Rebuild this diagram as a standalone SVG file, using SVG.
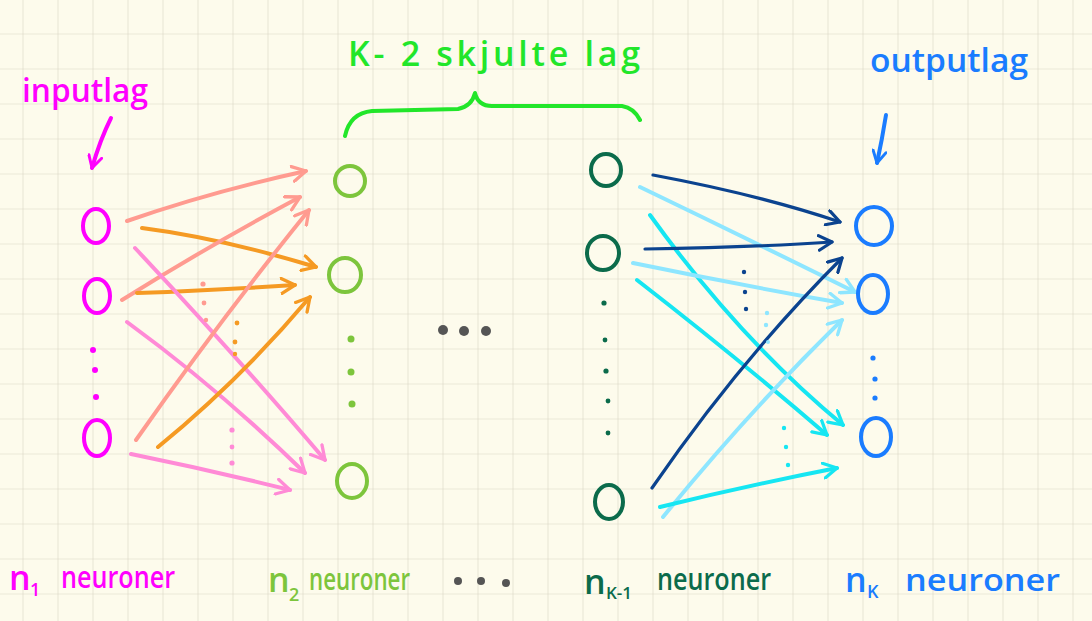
<svg xmlns="http://www.w3.org/2000/svg" width="1092" height="621" viewBox="0 0 1092 621">
<defs>
<pattern id="grid" x="22.5" y="-1.5" width="35" height="35" patternUnits="userSpaceOnUse">
<path d="M0,0 V35 M0,0 H35" fill="none" stroke="#d9d5c3" stroke-width="1.2"/>
</pattern>
<marker id="m-salmon" viewBox="0 0 12 12" refX="10" refY="6" markerWidth="4.5" markerHeight="4.5" orient="auto" markerUnits="strokeWidth"><path d="M1,1 L10,6 L1,11" fill="none" stroke="#ff9b90" stroke-width="2.2" stroke-linecap="round" stroke-linejoin="round"/></marker>
<marker id="m-orange" viewBox="0 0 12 12" refX="10" refY="6" markerWidth="4.5" markerHeight="4.5" orient="auto" markerUnits="strokeWidth"><path d="M1,1 L10,6 L1,11" fill="none" stroke="#f59a23" stroke-width="2.2" stroke-linecap="round" stroke-linejoin="round"/></marker>
<marker id="m-pink" viewBox="0 0 12 12" refX="10" refY="6" markerWidth="4.5" markerHeight="4.5" orient="auto" markerUnits="strokeWidth"><path d="M1,1 L10,6 L1,11" fill="none" stroke="#ff8ad6" stroke-width="2.2" stroke-linecap="round" stroke-linejoin="round"/></marker>
<marker id="m-navy" viewBox="0 0 12 12" refX="10" refY="6" markerWidth="5.5" markerHeight="5.5" orient="auto" markerUnits="strokeWidth"><path d="M1,1 L10,6 L1,11" fill="none" stroke="#0b438f" stroke-width="2.2" stroke-linecap="round" stroke-linejoin="round"/></marker>
<marker id="m-light" viewBox="0 0 12 12" refX="10" refY="6" markerWidth="4.5" markerHeight="4.5" orient="auto" markerUnits="strokeWidth"><path d="M1,1 L10,6 L1,11" fill="none" stroke="#8ee6ff" stroke-width="2.2" stroke-linecap="round" stroke-linejoin="round"/></marker>
<marker id="m-cyan" viewBox="0 0 12 12" refX="10" refY="6" markerWidth="4.5" markerHeight="4.5" orient="auto" markerUnits="strokeWidth"><path d="M1,1 L10,6 L1,11" fill="none" stroke="#16e6f2" stroke-width="2.2" stroke-linecap="round" stroke-linejoin="round"/></marker>
<marker id="m-blue" viewBox="0 0 12 12" refX="10" refY="6" markerWidth="4" markerHeight="4" orient="auto" markerUnits="strokeWidth"><path d="M1,1 L10,6 L1,11" fill="none" stroke="#1a7cff" stroke-width="2.2" stroke-linecap="round" stroke-linejoin="round"/></marker>
<marker id="m-magh" viewBox="0 0 12 12" refX="10" refY="6" markerWidth="4" markerHeight="4" orient="auto" markerUnits="strokeWidth"><path d="M1,1 L10,6 L1,11" fill="none" stroke="#ff00ff" stroke-width="2.2" stroke-linecap="round" stroke-linejoin="round"/></marker>
</defs>
<style>
.t{font-family:"Open Sans","Liberation Sans",sans-serif;font-weight:600;}
.node{fill:none;stroke-width:4;}
.in{stroke:#ff00ff}.hid{stroke:#7dc53c}.hk{stroke:#0b6b4b}.out{stroke:#1a7cff}
.a{fill:none;stroke-width:4;stroke-linecap:round}
.salmon{stroke:#ff9b90}.orange{stroke:#f59a23}.pink{stroke:#ff8ad6}
.navy{stroke:#0b438f;stroke-width:3.2}.light{stroke:#8ee6ff}.cyan{stroke:#16e6f2}
</style>
<rect width="1092" height="621" fill="#fdfbec"/>
<rect width="1092" height="621" fill="url(#grid)"/>

<g id="label-input">
<text class="t" x="22" y="102" font-size="32" fill="#ff00ff" textLength="126" lengthAdjust="spacingAndGlyphs">inputlag</text>
<path d="M111,118 Q100,140 92,168" fill="none" stroke="#ff00ff" stroke-width="4" stroke-linecap="round" marker-end="url(#m-magh)"/>
</g>
<g id="label-hidden">
<text class="t" x="348" y="66" font-size="34" fill="#22e62a" textLength="292" lengthAdjust="spacing">K- 2  skjulte  lag</text>
<path d="M345,136 Q350,113 372,111 L458,109 Q472,106 475,93 Q478,106 492,106 L622,106 Q634,108 640,120" fill="none" stroke="#22e62a" stroke-width="4" stroke-linecap="round" stroke-linejoin="round"/>
</g>
<g id="label-output">
<text class="t" x="870" y="72" font-size="32" fill="#1a7cff" textLength="158" lengthAdjust="spacingAndGlyphs">outputlag</text>
<path d="M886,115 Q882,140 877,163" fill="none" stroke="#1a7cff" stroke-width="4" stroke-linecap="round" marker-end="url(#m-blue)"/>
</g>

<g id="connectors">
<path class="a salmon" d="M127,221 Q210,192 306,171" marker-end="url(#m-salmon)"/>
<path class="a orange" d="M142,228 Q220,238 316,267" marker-end="url(#m-orange)"/>
<path class="a salmon" d="M122,300 Q210,245 300,197" marker-end="url(#m-salmon)"/>
<path class="a orange" d="M137,293 Q220,290 295,285" marker-end="url(#m-orange)"/>
<path class="a pink" d="M135,248 Q240,360 325,460" marker-end="url(#m-pink)"/>
<path class="a pink" d="M127,322 Q220,390 305,473" marker-end="url(#m-pink)"/>
<path class="a salmon" d="M136,440 Q220,320 309,210" marker-end="url(#m-salmon)"/>
<path class="a orange" d="M158,447 Q240,380 310,297" marker-end="url(#m-orange)"/>
<path class="a pink" d="M131,454 Q210,470 290,490" marker-end="url(#m-pink)"/>

<path class="a navy" d="M653,175 Q760,195 840,222" marker-end="url(#m-navy)"/>
<path class="a light" d="M640,187 Q750,240 855,292" marker-end="url(#m-light)"/>
<path class="a cyan" d="M650,215 Q740,340 843,425" marker-end="url(#m-cyan)"/>
<path class="a navy" d="M645,249 Q760,247 832,242" marker-end="url(#m-navy)"/>
<path class="a light" d="M633,263 Q740,285 842,303" marker-end="url(#m-light)"/>
<path class="a cyan" d="M637,280 Q740,360 827,435" marker-end="url(#m-cyan)"/>
<path class="a navy" d="M652,488 Q740,360 842,258" marker-end="url(#m-navy)"/>
<path class="a light" d="M663,517 Q750,410 842,320" marker-end="url(#m-light)"/>
<path class="a cyan" d="M660,507 Q750,485 837,468" marker-end="url(#m-cyan)"/>
</g>

<g id="edge-dots">
<g fill="#ff9b90"><circle cx="203" cy="284" r="2.6"/><circle cx="204" cy="303" r="2.4"/><circle cx="206" cy="320" r="2.2"/></g>
<g fill="#f59a23"><circle cx="237" cy="323" r="2.4"/><circle cx="235" cy="342" r="2.4"/><circle cx="235" cy="354" r="2.2"/></g>
<g fill="#ff8ad6"><circle cx="232" cy="430" r="2.6"/><circle cx="232" cy="447" r="2.4"/><circle cx="232" cy="463" r="2.6"/></g>
<g fill="#0b438f"><circle cx="744" cy="272" r="2.2"/><circle cx="745" cy="292" r="2.2"/><circle cx="746" cy="309" r="2.2"/></g>
<g fill="#8ee6ff"><circle cx="767" cy="313" r="2.2"/><circle cx="766" cy="325" r="2.2"/><circle cx="768" cy="342" r="2"/></g>
<g fill="#16e6f2"><circle cx="784" cy="428" r="2.2"/><circle cx="786" cy="447" r="2.2"/><circle cx="788" cy="465" r="2.2"/></g>
</g>

<g id="layer-input">
<ellipse class="node in" cx="96" cy="226" rx="13" ry="17"/>
<ellipse class="node in" cx="97" cy="296" rx="13" ry="17"/>
<ellipse class="node in" cx="97" cy="438" rx="13" ry="18"/>
<g fill="#ff00ff"><circle cx="93" cy="350" r="3"/><circle cx="95" cy="370" r="3"/><circle cx="96" cy="397" r="3"/></g>
</g>
<g id="layer-2">
<ellipse class="node hid" cx="350" cy="181" rx="15" ry="15"/>
<ellipse class="node hid" cx="345" cy="275" rx="16" ry="17"/>
<ellipse class="node hid" cx="352" cy="481" rx="15" ry="17"/>
<g fill="#7dc53c"><circle cx="351" cy="339" r="3.5"/><circle cx="351" cy="372" r="3.5"/><circle cx="352" cy="404" r="3.5"/></g>
</g>
<g id="layer-middle-dots" fill="#555555">
<circle cx="443" cy="330" r="5"/><circle cx="464" cy="331" r="5"/><circle cx="486" cy="331" r="5"/>
</g>
<g id="layer-k-1">
<ellipse class="node hk" cx="606" cy="170" rx="15" ry="16"/>
<ellipse class="node hk" cx="603" cy="253" rx="16" ry="17"/>
<ellipse class="node hk" cx="609" cy="502" rx="14" ry="17"/>
<g fill="#0b6b4b"><circle cx="604" cy="303" r="2.6"/><circle cx="605" cy="340" r="2.4"/><circle cx="606" cy="371" r="2.6"/><circle cx="608" cy="401" r="2.4"/><circle cx="608" cy="433" r="2.4"/></g>
</g>
<g id="layer-output">
<ellipse class="node out" cx="874" cy="226" rx="18" ry="19"/>
<ellipse class="node out" cx="873" cy="294" rx="15" ry="19"/>
<ellipse class="node out" cx="876" cy="437" rx="15" ry="19"/>
<g fill="#1a7cff"><circle cx="873" cy="358" r="2.6"/><circle cx="875" cy="379" r="2.6"/><circle cx="875" cy="398" r="2.6"/></g>
</g>

<g id="bottom-labels" class="t" font-size="30">
<g fill="#ff00ff"><text x="9" y="590" font-size="34">n</text><text x="30" y="596" font-size="18">1</text><text x="61" y="588" textLength="114" lengthAdjust="spacingAndGlyphs">neuroner</text></g>
<g fill="#7dc53c"><text x="268" y="592" font-size="34">n</text><text x="289" y="601" font-size="18">2</text><text x="309" y="590" textLength="101" lengthAdjust="spacingAndGlyphs">neuroner</text></g>
<g fill="#555555"><circle cx="458" cy="581" r="4"/><circle cx="481" cy="581" r="4"/><circle cx="506" cy="583" r="4"/></g>
<g fill="#0b6b4b"><text x="584" y="594" font-size="34">n</text><text x="606" y="599" font-size="17">K-1</text><text x="657" y="590" textLength="114" lengthAdjust="spacingAndGlyphs">neuroner</text></g>
<g fill="#1a7cff"><text x="845" y="592" font-size="34">n</text><text x="867" y="598" font-size="18">K</text><text x="905" y="591" textLength="155" lengthAdjust="spacingAndGlyphs">neuroner</text></g>
</g>
</svg>
